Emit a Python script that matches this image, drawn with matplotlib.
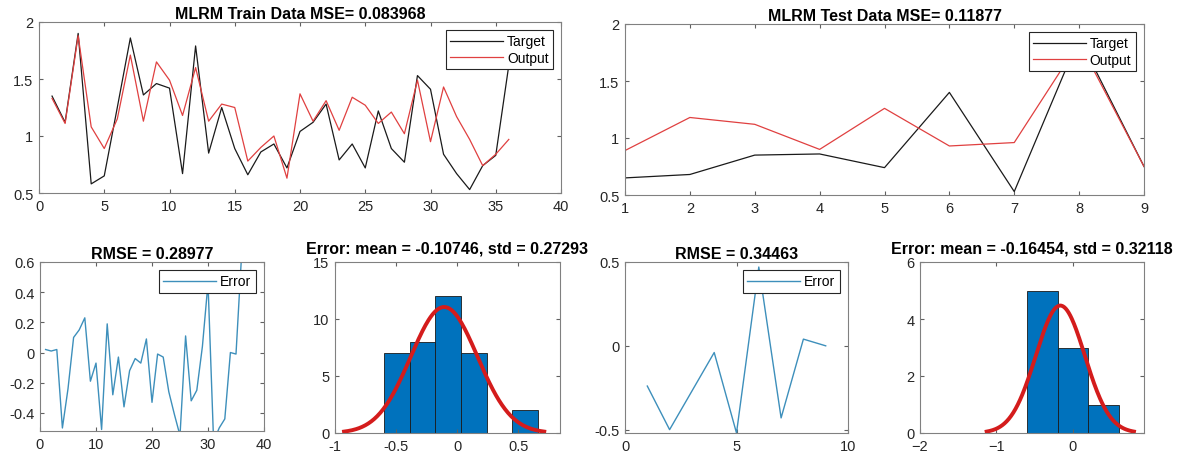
import numpy as np
from matplotlib import pyplot as plt

plt.rcParams['font.family'] = ['Liberation Sans', 'DejaVu Sans']

# train data (36 samples)
train_x = list(range(1, 37))
train_target = [1.35, 1.12, 1.90, 0.58, 0.65, 1.25, 1.86, 1.36, 1.46, 1.42,
                0.67, 1.79, 0.85, 1.25, 0.89, 0.66, 0.86, 0.93, 0.72, 1.04,
                1.12, 1.28, 0.79, 0.93, 0.72, 1.22, 0.89, 0.77, 1.53, 1.41,
                0.84, 0.67, 0.53, 0.74, 0.83, 1.62]
train_output = [1.33, 1.11, 1.88, 1.08, 0.89, 1.15, 1.71, 1.13, 1.65, 1.49,
                1.18, 1.60, 1.13, 1.28, 1.25, 0.78, 0.90, 1.00, 0.63, 1.37,
                1.13, 1.31, 1.05, 1.34, 1.27, 1.11, 1.21, 1.02, 1.49, 0.95,
                1.43, 1.17, 0.97, 0.74, 0.84, 0.97]
train_err = [0.02, 0.01, 0.02, -0.50, -0.24, 0.10, 0.15, 0.23, -0.19, -0.07,
             -0.51, 0.19, -0.28, -0.03, -0.36, -0.12, -0.04, -0.07, 0.09, -0.33,
             -0.01, -0.03, -0.26, -0.41, -0.55, 0.11, -0.32, -0.25, 0.04, 0.46,
             -0.59, -0.50, -0.44, 0.00, -0.01, 0.65]
train_bins = [-0.6, -0.39, -0.18, 0.03, 0.24, 0.45, 0.66]
train_mse = 0.083968
train_rmse = 0.28977
train_mean = -0.10746
train_std = 0.27293

# test data (9 samples)
test_x = list(range(1, 10))
test_target = [0.65, 0.68, 0.85, 0.86, 0.74, 1.40, 0.53, 1.88, 0.75]
test_output = [0.89, 1.18, 1.12, 0.90, 1.26, 0.93, 0.96, 1.84, 0.75]
test_err = [-0.24, -0.50, -0.27, -0.04, -0.52, 0.47, -0.43, 0.04, 0.00]
test_bins = [-0.6, -0.2, 0.2, 0.6]
test_mse = 0.11877
test_rmse = 0.34463
test_mean = -0.16454
test_std = 0.32118

W, H = 1181, 464
fig = plt.figure(figsize=(W / 100, H / 100), dpi=100)


def box(l, r, t, b):
    return fig.add_axes([l / W, (H - b) / H, (r - l) / W, (b - t) / H])


def style(ax):
    for s in ax.spines.values():
        s.set_color('#808080')
        s.set_linewidth(0.8)
    ax.tick_params(direction='in', top=True, right=True, length=3,
                   color='#606060', labelcolor='#262626', labelsize=10.5, pad=4)


def legend(ax, **kw):
    leg = ax.legend(loc='upper right', frameon=True, fancybox=False, fontsize=10,
                    handlelength=3.8, borderpad=0.3, labelspacing=0.2,
                    handletextpad=0.3, borderaxespad=0.6, **kw)
    leg.get_frame().set_edgecolor('#262626')
    leg.get_frame().set_linewidth(0.8)
    leg.get_frame().set_alpha(1)


def fit_hist(ax, err, bins, mu, sd, title):
    n, edges, _ = ax.hist(err, bins=bins, color='#0072BD', edgecolor='#1a1a1a', linewidth=0.6)
    bw = edges[1] - edges[0]
    xs = np.linspace(mu - 3 * sd, mu + 3 * sd, 200)
    pdf = np.exp(-0.5 * ((xs - mu) / sd) ** 2) / (sd * np.sqrt(2 * np.pi))
    ax.plot(xs, pdf * len(err) * bw, color='#d41c1c', linewidth=2.8)
    ax.set_title(title, fontsize=11.5, fontweight='bold', pad=7)


# train target / output
ax1 = box(39, 561, 23, 194)
ax1.plot(train_x, train_target, color='#1a1a1a', linewidth=0.9, label='Target')
ax1.plot(train_x, train_output, color='#e04040', linewidth=0.9, label='Output')
ax1.set_xlim(0, 40)
ax1.set_ylim(0.5, 2)
ax1.set_xticks(range(0, 41, 5))
ax1.set_yticks([0.5, 1, 1.5, 2], ['0.5', '1', '1.5', '2'])
ax1.set_title('MLRM Train Data MSE= %.6f' % train_mse, fontsize=11.5, fontweight='bold', pad=3)
style(ax1)
legend(ax1)

# test target / output
ax2 = box(625, 1144, 25, 196)
ax2.plot(test_x, test_target, color='#1a1a1a', linewidth=0.9, label='Target')
ax2.plot(test_x, test_output, color='#e04040', linewidth=0.9, label='Output')
ax2.set_xlim(1, 9)
ax2.set_ylim(0.5, 2)
ax2.set_yticks([0.5, 1, 1.5, 2], ['0.5', '1', '1.5', '2'])
ax2.set_title('MLRM Test Data MSE= %.5f' % test_mse, fontsize=11.5, fontweight='bold', pad=3)
style(ax2)
legend(ax2)

# train error
ax3 = box(40, 264, 263, 432)
ax3.plot(train_x, train_err, color='#3d8fbb', linewidth=1.0, label='Error')
ax3.set_xlim(0, 40)
ax3.set_ylim(-0.52, 0.6)
ax3.set_xticks([0, 10, 20, 30, 40])
ax3.set_yticks([-0.4, -0.2, 0, 0.2, 0.4, 0.6], ['-0.4', '-0.2', '0', '0.2', '0.4', '0.6'])
ax3.set_title('RMSE = %.5f' % train_rmse, fontsize=11.5, fontweight='bold', pad=3)
style(ax3)
legend(ax3)

# train error histogram
ax4 = box(335, 560, 263, 434)
fit_hist(ax4, train_err, train_bins, train_mean, train_std,
         'Error: mean = %.5f, std = %.5f' % (train_mean, train_std))
ax4.set_xlim(-1.0, 0.84)
ax4.set_ylim(0, 15)
ax4.set_xticks([-1, -0.5, 0, 0.5], ['-1', '-0.5', '0', '0.5'])
ax4.set_yticks([0, 5, 10, 15])
style(ax4)

# test error
ax5 = box(625, 848, 263, 434)
ax5.plot(test_x, test_err, color='#3d8fbb', linewidth=1.0, label='Error')
ax5.set_xlim(0, 10)
ax5.set_ylim(-0.52, 0.5)
ax5.set_xticks([0, 5, 10])
ax5.set_yticks([-0.5, 0, 0.5], ['-0.5', '0', '0.5'])
ax5.set_title('RMSE = %.5f' % test_rmse, fontsize=11.5, fontweight='bold', pad=3)
style(ax5)
legend(ax5)

# test error histogram
ax6 = box(920, 1144, 263, 434)
fit_hist(ax6, test_err, test_bins, test_mean, test_std,
         'Error: mean = %.5f, std = %.5f' % (test_mean, test_std))
ax6.set_xlim(-2, 0.93)
ax6.set_ylim(0, 6)
ax6.set_xticks([-2, -1, 0])
ax6.set_yticks([0, 2, 4, 6])
style(ax6)

plt.savefig('out.png', dpi=100)
